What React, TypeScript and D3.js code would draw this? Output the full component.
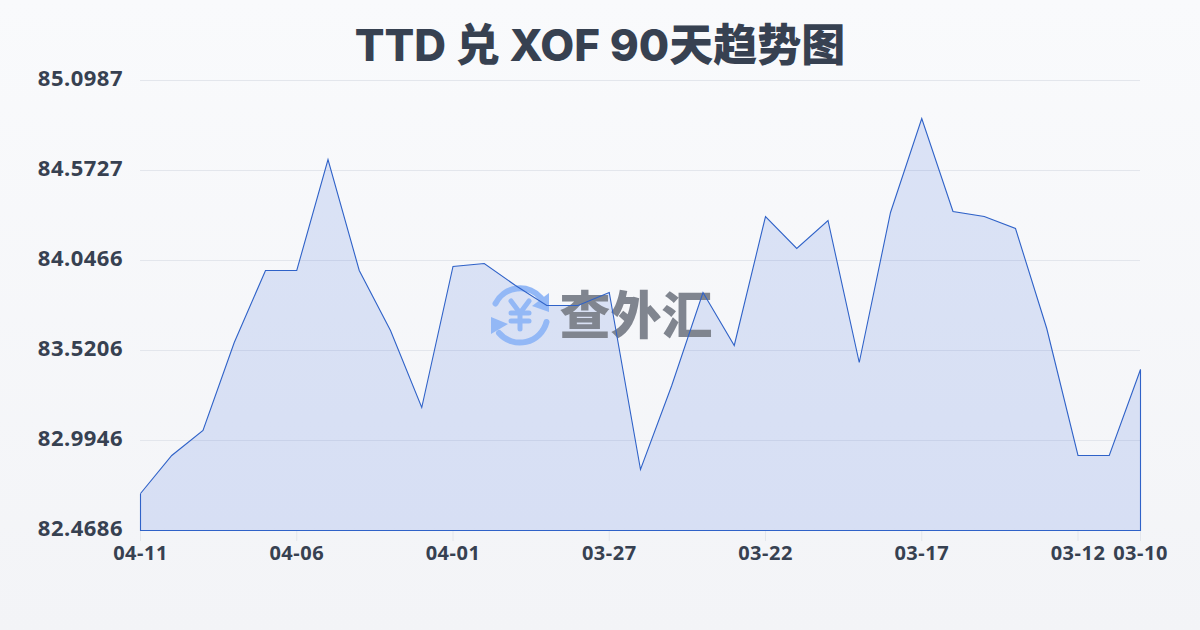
import React from "react";
import * as d3 from "d3";

const dates = ["04-11","04-10","04-09","04-08","04-07","04-06","04-05","04-04","04-03","04-02","04-01","03-31","03-30","03-29","03-28","03-27","03-26","03-25","03-24","03-23","03-22","03-21","03-20","03-19","03-18","03-17","03-16","03-15","03-14","03-13","03-12","03-11","03-10"];
const rates = [82.6849,82.9070,83.0531,83.5674,83.9882,83.9882,84.6370,83.9882,83.6375,83.1875,84.0116,84.0291,83.9006,83.7837,83.7837,83.8596,82.8251,83.3161,83.8596,83.5499,84.3038,84.1168,84.2805,83.4505,84.3272,84.8766,84.3331,84.3038,84.2337,83.6492,82.9070,82.9070,83.4096];
const yTicks = [82.4686,82.9946,83.5206,84.0466,84.5727,85.0987];
const xTickLabels = ["04-11","04-06","04-01","03-27","03-22","03-17","03-12","03-10"];
const title = "TTD 兑 XOF 90天趋势图";
const brand = "查外汇";

const FONT = "'Noto Sans','Noto Sans CJK SC',sans-serif";
const INK = "#374151";

export default function App() {
  const x = d3.scaleLinear().domain([0, dates.length - 1]).range([140.5, 1140.5]);
  const y = d3.scaleLinear().domain([yTicks[0], yTicks[yTicks.length - 1]]).range([530.5, 80.5]);
  const line = d3.line<number>().x((_, i) => x(i)).y((d) => y(d));
  const area = d3.area<number>().x((_, i) => x(i)).y0(y(yTicks[0])).y1((d) => y(d));
  return (
    <svg width={1200} height={630} style={{ position: "fixed", left: 0, top: 0, display: "block" }}>
      <defs>
        <linearGradient id="bg" x1="0" y1="0" x2="0" y2="1">
          <stop offset="0" stopColor="#f9fafc" />
          <stop offset="1" stopColor="#f3f4f7" />
        </linearGradient>
      </defs>
      <rect width={1200} height={630} fill="url(#bg)" />
      {yTicks.map((t) => (
        <line key={t} x1={140} x2={1140} y1={y(t)} y2={y(t)} stroke="#e3e6ec" strokeWidth={1} />
      ))}
      {xTickLabels.map((l) => {
        const i = dates.indexOf(l);
        return <line key={l} x1={x(i)} x2={x(i)} y1={530} y2={541} stroke="#e3e6ec" strokeWidth={1} />;
      })}
      <path d={area(rates) ?? ""} fill="#2a5cdc" fillOpacity={0.14} />
      <g>
        <g fill="none" stroke="#93b8f6" strokeWidth={6} strokeLinecap="round">
          <path d="M495.5 303.5 A27.5 27.5 0 0 1 541 298" />
          <path d="M546.5 322 A27.5 27.5 0 0 1 499 333" />
        </g>
        <path d="M549 293 L549 312 L532 306 Z" fill="#93b8f6" />
        <path d="M491 317 L508 324 L491 334 Z" fill="#93b8f6" />
        <g fill="none" stroke="#93b8f6" strokeWidth={5} strokeLinecap="round" strokeLinejoin="round">
          <path d="M511 301 L520 313 L529 301" />
          <path d="M520 313 L520 329" />
          <path d="M511 313 L529 313" />
          <path d="M511 321 L529 321" />
        </g>
        <text x={636} y={334} textAnchor="middle" fontFamily="'Noto Sans CJK SC'" fontWeight={900} fontSize={51} fill="#80858f">{brand}</text>
      </g>
      <path d={line(rates) ?? ""} fill="none" stroke="#2f62c8" strokeWidth={1.1} />
      <path d={`M${x(0)} ${y(rates[0])} L${x(0)} ${y(yTicks[0])} L${x(dates.length - 1)} ${y(yTicks[0])} L${x(dates.length - 1)} ${y(rates[rates.length - 1])}`} fill="none" stroke="#2f62c8" strokeWidth={1.1} />
      {yTicks.map((t) => (
        <text key={t} x={123} y={y(t) + 5.5} textAnchor="end" fontFamily={FONT} fontWeight={700} fontSize={22} letterSpacing={0.5} fill={INK}>{t.toFixed(4)}</text>
      ))}
      {xTickLabels.map((l) => (
        <text key={l} x={x(dates.indexOf(l))} y={560} textAnchor="middle" fontFamily={FONT} fontWeight={700} fontSize={20} letterSpacing={0.5} fill={INK}>{l}</text>
      ))}
      <text x={600} y={61} textAnchor="middle" fontFamily="Inter,'Noto Sans CJK SC',sans-serif" fontWeight={800} fontSize={44} fill={INK}>{title}</text>
    </svg>
  );
}
